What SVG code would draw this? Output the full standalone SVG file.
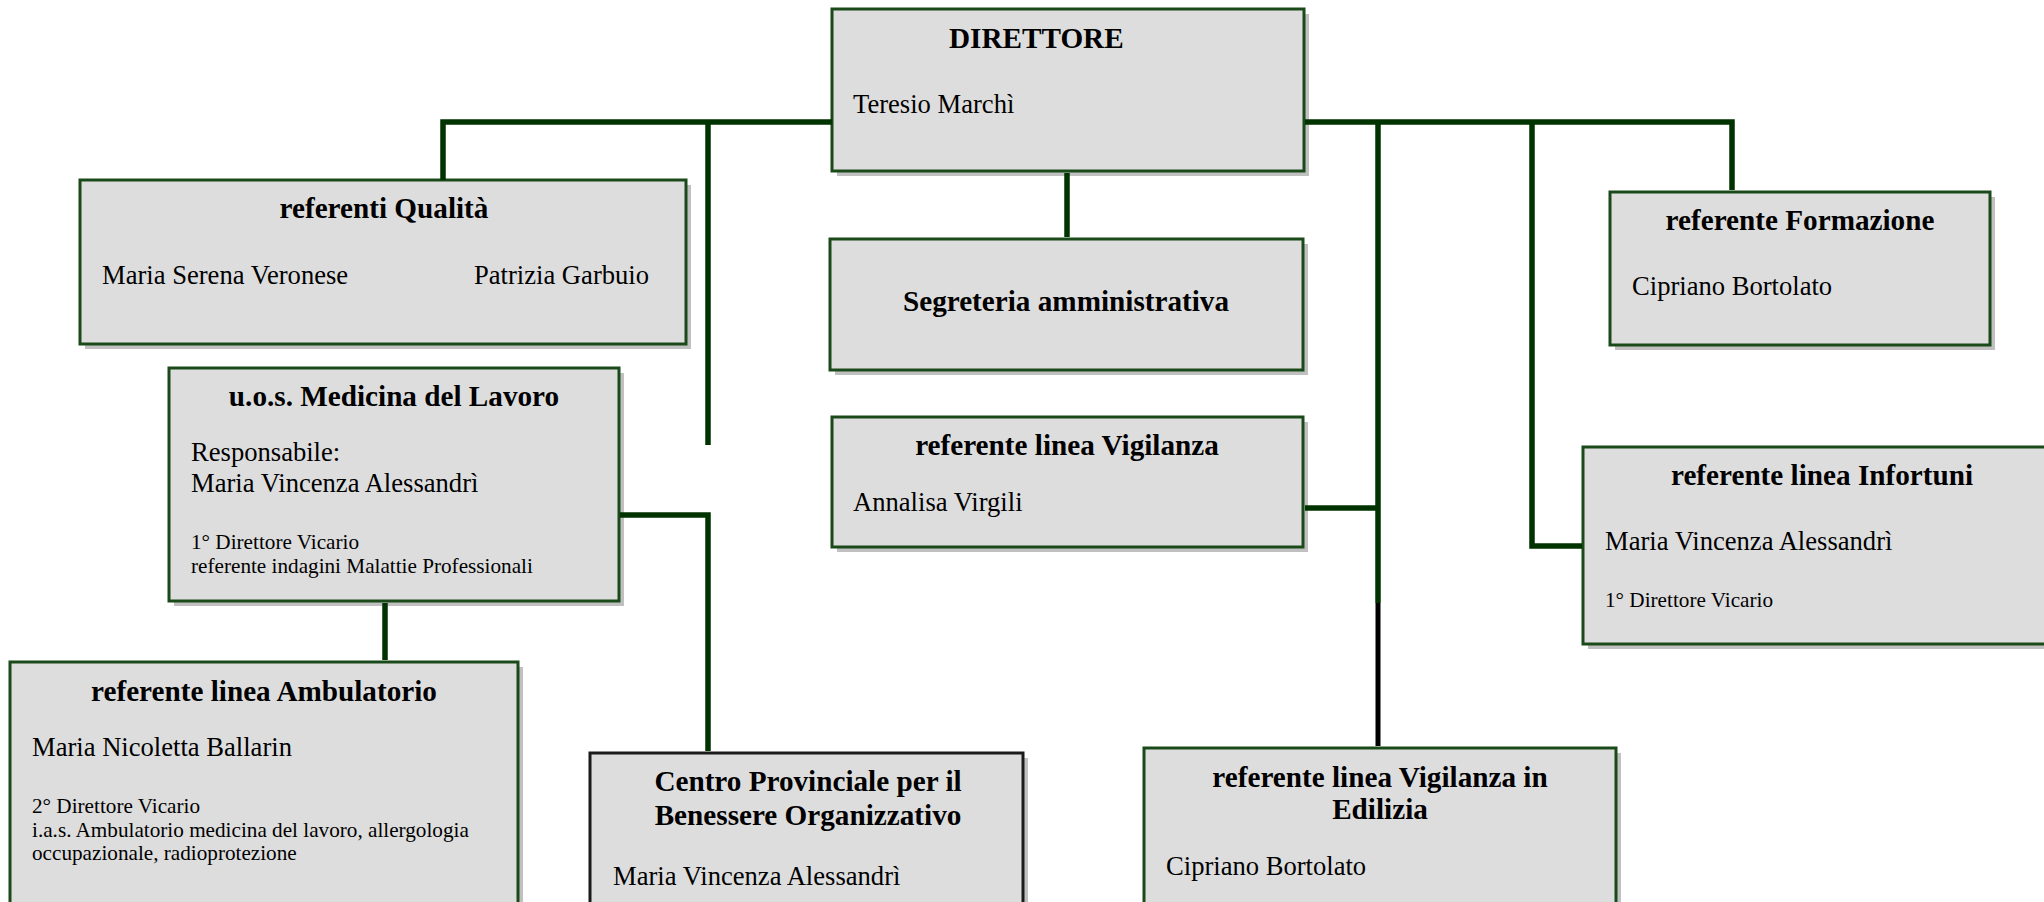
<svg xmlns="http://www.w3.org/2000/svg" width="2044" height="902" viewBox="0 0 2044 902">
<style>
.sh{fill:#c0c0c0}
.bx{fill:#dddddd;stroke:#1a4a1a;stroke-width:3}
.bk{fill:#dddddd;stroke:#1a1a1a;stroke-width:3}
.t{font-family:"Liberation Serif","Times New Roman",serif;font-weight:bold;font-size:29.2px;fill:#000;text-anchor:middle}
.n{font-family:"Liberation Serif","Times New Roman",serif;font-size:26.6px;fill:#000}
.s{font-family:"Liberation Serif","Times New Roman",serif;font-size:21.2px;fill:#000}
.c{fill:none;stroke:#003300;stroke-width:5.5}
.cb{fill:none;stroke:#000000;stroke-width:5}
</style>
<rect width="2044" height="902" fill="#ffffff"/>
<g id="direttore">
<rect class="sh" x="837" y="14" width="472" height="162"/>
<rect class="bx" x="832" y="9" width="472" height="162"/>
<text class="t" x="949" y="48" style="text-anchor:start">DIRETTORE</text>
<text class="n" x="853" y="113">Teresio Marchì</text>
</g>
<g id="qualita">
<rect class="sh" x="85" y="185" width="606" height="164"/>
<rect class="bx" x="80" y="180" width="606" height="164"/>
<text class="t" x="384" y="218">referenti Qualità</text>
<text class="n" x="102" y="284">Maria Serena Veronese</text>
<text class="n" x="474" y="284">Patrizia Garbuio</text>
</g>
<g id="segreteria">
<rect class="sh" x="835" y="244" width="473" height="131"/>
<rect class="bx" x="830" y="239" width="473" height="131"/>
<text class="t" x="1066" y="311">Segreteria amministrativa</text>
</g>
<g id="formazione">
<rect class="sh" x="1615" y="197" width="380" height="153"/>
<rect class="bx" x="1610" y="192" width="380" height="153"/>
<text class="t" x="1800" y="230">referente Formazione</text>
<text class="n" x="1632" y="295">Cipriano Bortolato</text>
</g>
<g id="medicina">
<rect class="sh" x="174" y="373" width="450" height="233"/>
<rect class="bx" x="169" y="368" width="450" height="233"/>
<text class="t" x="394" y="406">u.o.s. Medicina del Lavoro</text>
<text class="n" x="191" y="461">Responsabile:</text>
<text class="n" x="191" y="492">Maria Vincenza Alessandrì</text>
<text class="s" x="191" y="549">1° Direttore Vicario</text>
<text class="s" x="191" y="573">referente indagini Malattie Professionali</text>
</g>
<g id="vigilanza">
<rect class="sh" x="837" y="422" width="471" height="130"/>
<rect class="bx" x="832" y="417" width="471" height="130"/>
<text class="t" x="1067" y="455">referente linea Vigilanza</text>
<text class="n" x="853" y="511">Annalisa Virgili</text>
</g>
<g id="infortuni">
<rect class="sh" x="1588" y="452" width="480" height="197"/>
<rect class="bx" x="1583" y="447" width="478" height="197"/>
<text class="t" x="1822" y="485">referente linea Infortuni</text>
<text class="n" x="1605" y="550">Maria Vincenza Alessandrì</text>
<text class="s" x="1605" y="607">1° Direttore Vicario</text>
</g>
<g id="ambulatorio">
<rect class="sh" x="15" y="667" width="508" height="300"/>
<rect class="bx" x="10" y="662" width="508" height="300"/>
<text class="t" x="264" y="701">referente linea Ambulatorio</text>
<text class="n" x="32" y="756">Maria Nicoletta Ballarin</text>
<text class="s" x="32" y="813">2° Direttore Vicario</text>
<text class="s" x="32" y="837">i.a.s. Ambulatorio medicina del lavoro, allergologia</text>
<text class="s" x="32" y="860">occupazionale, radioprotezione</text>
</g>
<g id="centro">
<rect class="sh" x="595" y="758" width="433" height="200"/>
<rect class="bk" x="590" y="753" width="433" height="200"/>
<text class="t" x="808" y="791">Centro Provinciale per il</text>
<text class="t" x="808" y="825">Benessere Organizzativo</text>
<text class="n" x="613" y="885">Maria Vincenza Alessandrì</text>
</g>
<g id="edilizia">
<rect class="sh" x="1149" y="753" width="472" height="200"/>
<rect class="bx" x="1144" y="748" width="472" height="200"/>
<text class="t" x="1380" y="787">referente linea Vigilanza in</text>
<text class="t" x="1380" y="819">Edilizia</text>
<text class="n" x="1166" y="875">Cipriano Bortolato</text>
</g>
<g id="connectors">
<path class="c" d="M443 180 V122 H832"/>
<path class="c" d="M708 122 V445"/>
<path class="c" d="M1305 122 H1732 V190"/>
<path class="c" d="M1378 122 V603"/>
<path class="cb" d="M1378 603 V746"/>
<path class="c" d="M1305 508 H1378"/>
<path class="c" d="M1532 122 V546 H1582"/>
<path class="c" d="M1067 173 V237"/>
<path class="c" d="M385 603 V660"/>
<path class="c" d="M620 515 H708 V751"/>
</g>
</svg>
